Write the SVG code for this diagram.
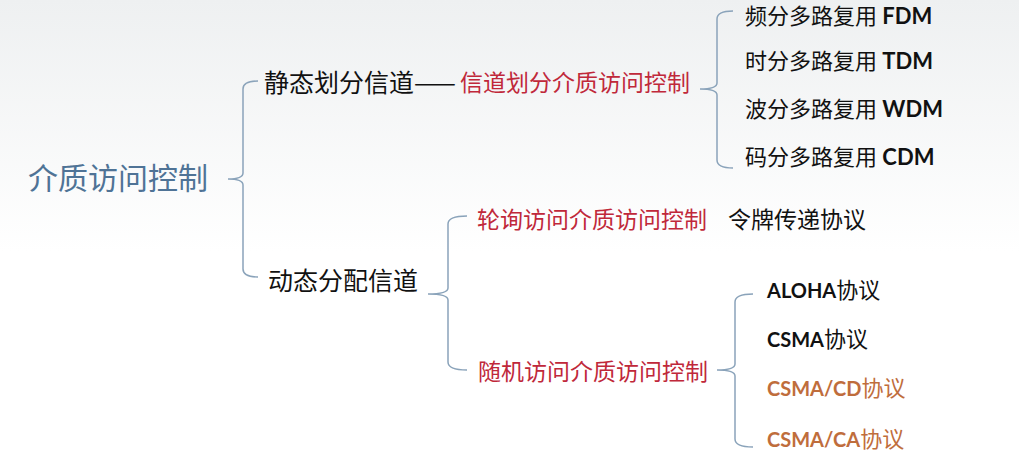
<svg xmlns="http://www.w3.org/2000/svg" width="1019" height="459" viewBox="0 0 1019 459">
<defs>
<linearGradient id="bg" x1="0" y1="0" x2="0" y2="1">
<stop offset="0" stop-color="#eef0f1"/>
<stop offset="0.55" stop-color="#ffffff"/>
<stop offset="1" stop-color="#ffffff"/>
</linearGradient>
</defs>
<style>
text{font-family:"Noto Sans CJK SC","Noto Sans",sans-serif;}
.root{font-size:30px;fill:#4f7396;}
.l1{font-size:25px;fill:#111;}
.red{font-size:23px;fill:#c0283a;}
.blk{font-size:23px;fill:#111;}
.leaf{font-size:22px;fill:#111;}
.or{fill:#bf6d3c;}
.en{font-family:"Lato","Open Sans",sans-serif;font-weight:bold;}
.pe{font-size:20px;}
.brace{fill:none;stroke:#8aa3ba;stroke-width:1.5;}
</style>
<rect width="1019" height="459" fill="url(#bg)"/>
<g id="connectors">
<path class="brace" d="M258,81 Q243,81 243,89 L243,173 Q243,179 228,179 Q243,179 243,185 L243,269 Q243,277 258,277"/>
<path class="brace" d="M733,11 Q717,11 717,19 L717,83 Q717,89 700,89 Q717,89 717,95 L717,160 Q717,168 733,168"/>
<path class="brace" d="M467,216 Q448,216 448,224 L448,288 Q448,294 428,294 Q448,294 448,300 L448,362 Q448,370 467,370"/>
<path class="brace" d="M753,294 Q735,294 735,302 L735,364 Q735,370 717,370 Q735,370 735,376 L735,439 Q735,447 753,447"/>
</g>
<g id="root"><text class="root" x="28" y="189">介质访问控制</text></g>
<g id="static"><text class="l1" x="264" y="92">静态划分信道——</text><text class="red" x="460" y="91">信道划分介质访问控制</text></g>
<g id="fdm"><text class="leaf" x="745" y="24">频分多路复用<tspan class="en"> FDM</tspan></text></g>
<g id="tdm"><text class="leaf" x="745" y="69">时分多路复用<tspan class="en"> TDM</tspan></text></g>
<g id="wdm"><text class="leaf" x="745" y="117">波分多路复用<tspan class="en"> WDM</tspan></text></g>
<g id="cdm"><text class="leaf" x="745" y="165">码分多路复用<tspan class="en"> CDM</tspan></text></g>
<g id="dynamic"><text class="l1" x="268" y="290">动态分配信道</text></g>
<g id="polling"><text class="red" x="477" y="228">轮询访问介质访问控制</text><text class="blk" x="728" y="228">令牌传递协议</text></g>
<g id="random"><text class="red" x="478" y="380">随机访问介质访问控制</text></g>
<g id="aloha"><text class="leaf" x="767" y="298"><tspan class="en pe">ALOHA</tspan>协议</text></g>
<g id="csma"><text class="leaf" x="767" y="347"><tspan class="en pe">CSMA</tspan>协议</text></g>
<g id="csmacd"><text class="leaf or" x="767" y="396"><tspan class="en pe">CSMA/CD</tspan>协议</text></g>
<g id="csmaca"><text class="leaf or" x="767" y="447"><tspan class="en pe">CSMA/CA</tspan>协议</text></g>
</svg>
